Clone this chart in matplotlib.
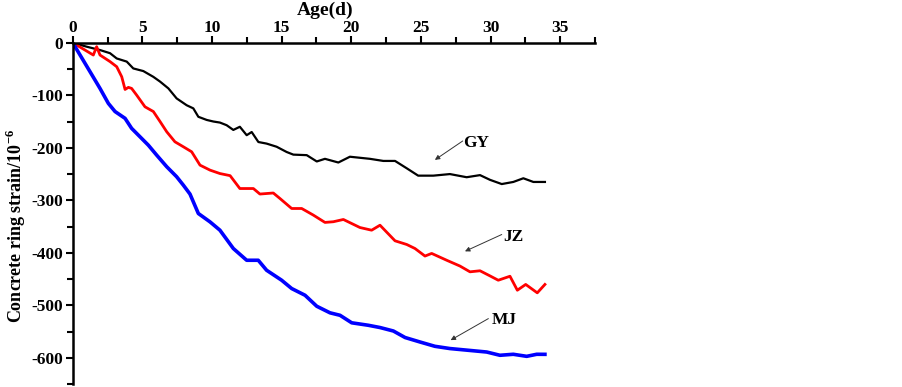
import matplotlib
matplotlib.use("Agg")
import matplotlib.pyplot as plt
from matplotlib.ticker import MultipleLocator

plt.rcParams['font.family'] = ['Liberation Serif', 'DejaVu Serif']
plt.rcParams['font.weight'] = 'bold'
plt.rcParams['axes.unicode_minus'] = False
plt.rcParams['mathtext.fontset'] = 'custom'
plt.rcParams['mathtext.bf'] = 'Liberation Serif:bold'
plt.rcParams['mathtext.rm'] = 'Liberation Serif:bold'

gy_x = [0, 1.0, 1.96, 2.68, 3.16, 3.88, 4.35, 5.07, 5.79, 6.27, 6.87, 7.46, 8.18, 8.66, 9.02,
        9.62, 10.1, 10.57, 11.05, 11.53, 12.0, 12.49, 12.85, 13.33, 13.92, 14.64, 15.36,
        15.84, 16.8, 17.52, 18.11, 19.07, 19.9, 21.34, 22.3, 23.14, 23.98, 24.8, 25.89,
        27.08, 28.28, 29.24, 29.96, 30.8, 31.63, 32.35, 33.07, 33.9]
gy_y = [0, -7.6, -14, -20, -30, -36, -49, -54, -65, -74, -87, -106, -119, -125, -141,
        -147, -150, -152, -157, -166, -160, -176, -170, -189, -192, -198, -208,
        -213, -214, -226, -221, -228, -217, -221, -225, -225, -239, -253, -253,
        -250, -256, -252, -261, -269, -265, -258, -265, -265]

jz_x = [0, 1.48, 1.72, 1.96, 2.68, 3.16, 3.52, 3.76, 4.0, 4.23, 4.59, 5.19, 5.79, 6.27,
        6.75, 7.34, 7.94, 8.54, 9.14, 9.86, 10.57, 11.3, 12.0, 12.97, 13.44, 14.4, 14.88,
        15.72, 16.44, 17.27, 18.11, 18.71, 19.43, 20.62, 21.46, 22.06, 23.14, 23.98,
        24.57, 25.29, 25.77, 26.85, 27.8, 28.52, 29.24, 29.96, 30.55, 31.39, 31.92,
        32.52, 33.35, 33.9]
jz_y = [0, -23.5, -7.6, -23.5, -36, -45.7, -64.8, -89, -85, -87, -99.7, -122, -131, -150,
        -169.5, -188.6, -198, -207.6, -233, -242.5, -249, -253, -277.5, -277.5, -288, -286, -296.5,
        -315.5, -315.5, -328, -342, -340.7, -336.4, -351.7, -356.8, -347.3, -377, -384,
        -391.6, -406, -401, -414, -425, -436, -434, -443.8, -452, -444.4, -471,
        -460, -476, -460]

mj_x = [0, 0.53, 1.24, 1.96, 2.56, 3.04, 3.76, 4.23, 4.83, 5.43, 6.03, 6.75, 7.46, 7.94,
        8.42, 9.02, 9.86, 10.57, 11.53, 12.49, 13.32, 13.92, 15.0, 15.72, 16.68, 17.52,
        18.47, 19.19, 20.03, 21.22, 22.06, 23.02, 23.86, 24.93, 26.0, 27.08, 28.28,
        29.72, 30.67, 31.63, 32.59, 33.31, 33.9]
mj_y = [0, -23.5, -55, -87, -115.5, -131, -144, -163, -179, -195, -214, -236, -255, -271,
        -288, -325, -341, -356.8, -391.6, -414, -414, -433, -452, -467.8, -480.6, -501.5,
        -514, -518.7, -533, -537.7, -542, -548.6, -561, -569.5, -577.7, -582, -585,
        -588.6, -594.8, -592.9, -596.8, -592.9, -593]

labels = ["GY", "JZ", "MJ"]
label_xy = [(28.05, -191), (30.9, -369), (30.05, -528)]
arrow_tail = [(28.0, -187), (30.8, -365), (29.84, -525)]
arrow_head = [(26.0, -223), (28.16, -397), (27.13, -566)]

fig = plt.figure(figsize=(9.03, 3.87), dpi=100)
ax = fig.add_axes([0.0805, 0.007, 0.659 - 0.0805, 0.8897 - 0.007])

ax.plot(gy_x, gy_y, color='black', lw=1.6)
ax.plot(jz_x, jz_y, color='#ff0000', lw=2.0)
ax.plot(mj_x, mj_y, color='#0000ff', lw=2.6)

for lab, txy, tail, head in zip(labels, label_xy, arrow_tail, arrow_head):
    ax.annotate("", xy=head, xytext=tail,
                arrowprops=dict(arrowstyle='-|>', color='#333333', lw=0.7,
                                mutation_scale=7, shrinkA=0, shrinkB=0))
    ax.text(txy[0], txy[1], lab, fontsize=12.5, fontweight='bold',
            ha='left', va='center')

ax.set_xlim(0, 37.5)
ax.set_ylim(-650, 0)
ax.xaxis.set_major_locator(MultipleLocator(5))
ax.xaxis.set_minor_locator(MultipleLocator(2.5))
ax.yaxis.set_major_locator(MultipleLocator(100))
ax.yaxis.set_minor_locator(MultipleLocator(50))
ax.xaxis.tick_top()
ax.xaxis.set_label_position('top')
for s in ['right', 'bottom']:
    ax.spines[s].set_visible(False)
for s in ['top', 'left']:
    ax.spines[s].set_linewidth(1.8)
ax.tick_params(which='both', direction='out', width=1.5, labelsize=12.5, pad=2)
ax.tick_params(axis='x', which='both', pad=0)
ax.tick_params(which='major', length=5)
ax.tick_params(which='minor', length=4)
for t in ax.get_xticklabels() + ax.get_yticklabels():
    t.set_fontweight('bold')
ax.set_xlabel("Age(d)", fontsize=14, fontweight='bold')
ax.xaxis.set_label_coords(0.483, 1.082)
ax.set_ylabel(r"Concrete ring strain/10$^{\mathbf{-6}}$", fontsize=13, fontweight='bold')
ax.yaxis.set_label_coords(-0.086, 0.463)

fig.savefig("out.png", dpi=100)
